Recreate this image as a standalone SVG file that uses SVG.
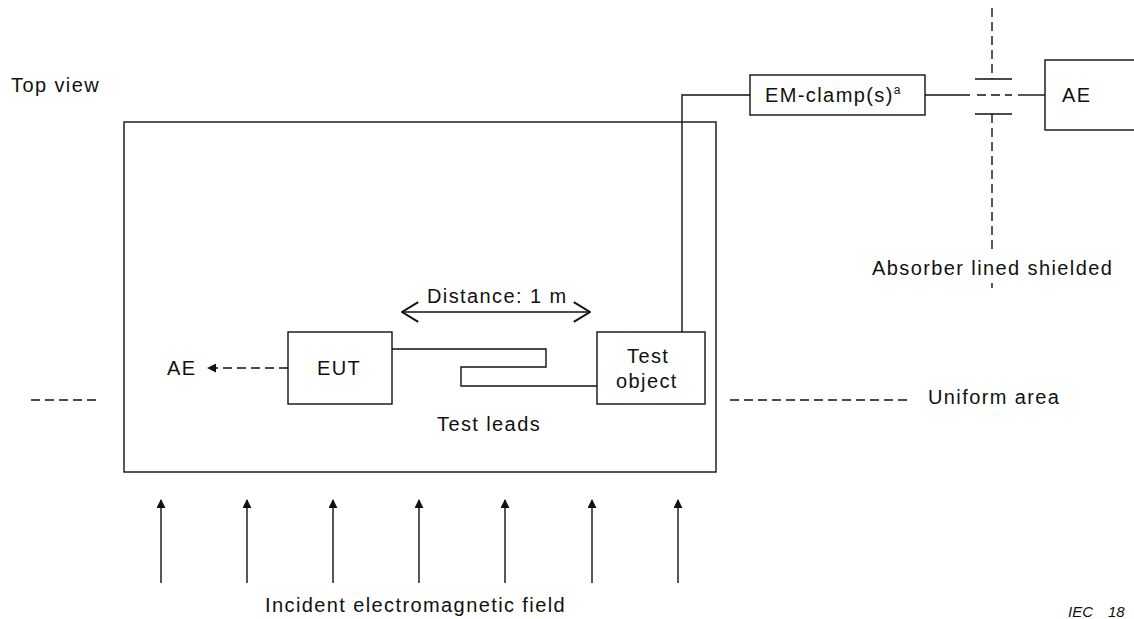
<svg xmlns="http://www.w3.org/2000/svg" width="1134" height="619" viewBox="0 0 1134 619">
<style>
text{font-family:"Liberation Sans",Arial,sans-serif;font-size:20px;letter-spacing:1.4px;fill:#111}
text.iec{font-size:15px;font-style:italic;letter-spacing:0}
.box{fill:#fff;stroke:#111;stroke-width:1.4}
.ln{fill:none;stroke:#111;stroke-width:1.4}
.dash{fill:none;stroke:#111;stroke-width:1.4;stroke-dasharray:9 5}
</style>
<defs>
<marker id="tri" viewBox="0 0 10 10" refX="9" refY="5" markerWidth="9" markerHeight="9" markerUnits="userSpaceOnUse" orient="auto">
<path d="M0,0 L10,5 L0,10 z" fill="#111"/>
</marker>
<marker id="open" viewBox="0 0 20 24" refX="19" refY="12" markerWidth="18" markerHeight="22" markerUnits="userSpaceOnUse" orient="auto-start-reverse">
<path d="M1,1 L19,12 L1,23" fill="none" stroke="#111" stroke-width="2.2"/>
</marker>
</defs>
<rect width="1134" height="619" fill="#fff"/>
<text x="11" y="92">Top view</text>
<g id="area"><rect class="box" x="124" y="122" width="592" height="350"/></g>
<g id="connectors">
<path class="ln" d="M682,332 V95 H750"/>
<path class="ln" d="M925,95 H970"/>
<path class="dash" d="M977,95 H1012"/>
<path class="ln" d="M1018,95 H1045"/>
<path class="ln" d="M392,349 H546 V367 H461 V386 H597"/>
<path class="dash" d="M288,368 H208" marker-end="url(#tri)"/>
<path class="ln" d="M402,312 H590" stroke-width="2.2" marker-start="url(#open)" marker-end="url(#open)"/>
<path class="dash" d="M31,400 H98"/>
<path class="dash" d="M730,400 H912"/>
<g>
<path class="ln" d="M161,583 V500" marker-end="url(#tri)"/>
<path class="ln" d="M247,583 V500" marker-end="url(#tri)"/>
<path class="ln" d="M333,583 V500" marker-end="url(#tri)"/>
<path class="ln" d="M419,583 V500" marker-end="url(#tri)"/>
<path class="ln" d="M505,583 V500" marker-end="url(#tri)"/>
<path class="ln" d="M592,583 V500" marker-end="url(#tri)"/>
<path class="ln" d="M678,583 V500" marker-end="url(#tri)"/>
</g>
</g>
<g id="shield">
<path class="dash" d="M992,8 V79"/>
<path class="dash" d="M992,114 V252"/>
<path class="ln" d="M975,79 H1012 M975,114 H1012"/>
<path class="ln" d="M992,283 V288"/>
<text x="872" y="275">Absorber lined shielded</text>
</g>
<g id="emclamp"><rect class="box" x="750" y="75" width="175" height="40"/>
<text x="765" y="102">EM-clamp(s)<tspan style="font-size:12px;letter-spacing:0" dy="-8">a</tspan></text></g>
<g id="ae-right"><rect class="box" x="1045" y="60" width="100" height="70"/>
<text x="1062" y="102">AE</text></g>
<g id="eut"><rect class="box" x="288" y="332" width="104" height="72"/>
<text x="317" y="375">EUT</text></g>
<g id="ae-left"><text x="167" y="375">AE</text></g>
<g id="testobject"><rect class="box" x="597" y="332" width="108" height="72"/>
<text x="627" y="363">Test</text><text x="616" y="388">object</text></g>
<text x="427" y="303">Distance: 1 m</text>
<text x="437" y="431">Test leads</text>
<text x="928" y="404">Uniform area</text>
<text x="265" y="612">Incident electromagnetic field</text>
<text class="iec" y="617"><tspan x="1068">IEC</tspan><tspan x="1108">18</tspan></text>
</svg>
